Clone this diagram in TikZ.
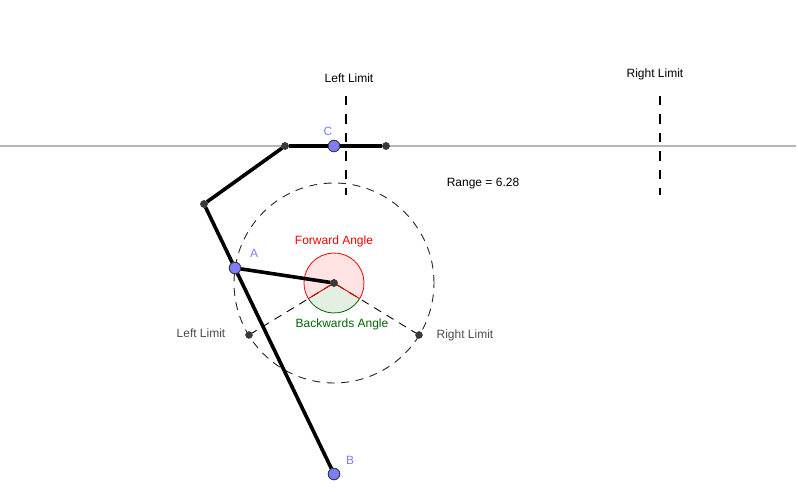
\documentclass[tikz,border=0pt]{standalone}
\usepackage{fontspec}
\setmainfont{Liberation Sans}
\usetikzlibrary{calc}
\definecolor{ptblue}{HTML}{7D7DFF}
\definecolor{ptdark}{HTML}{3A3A3A}
\definecolor{fwdfill}{HTML}{FFE3E3}
\definecolor{bckfill}{HTML}{E4EFE4}
\definecolor{bckgreen}{HTML}{006400}
\tikzset{
  freept/.style={circle,draw=ptdark,fill=ptblue,line width=0.8pt,inner sep=0pt,minimum size=11.5pt},
  fixpt/.style={circle,fill=ptdark,draw=ptdark,inner sep=0pt,minimum size=7pt},
  lbl/.style={font=\fontsize{12pt}{13pt}\selectfont,inner sep=0pt},
  arm/.style={line width=3.6pt},
  limitline/.style={line width=2.8pt,dash pattern=on 9.5pt off 8.9pt},
  thindash/.style={line width=0.9pt,dash pattern=on 8pt off 6.5pt}
}
\begin{document}
\begin{tikzpicture}[x=1pt,y=1pt]
\useasboundingbox (0,0) rectangle (798,492);
\coordinate (ctr) at (334,209);
\coordinate (railL) at (0,346);
\coordinate (railR) at (796,346);
\coordinate (l1t) at (346,396);
\coordinate (l1b) at (346,297);
\coordinate (l2t) at (660,396);
\coordinate (l2b) at (660,297);

% angle sectors
\fill[fwdfill] (ctr) -- ++(328.5:30pt) arc[start angle=-31.5,end angle=211.5,radius=30pt] -- cycle;
\fill[bckfill] (ctr) -- ++(211.5:30pt) arc[start angle=211.5,end angle=328.5,radius=30pt] -- cycle;

% rail and limits
\draw[black!28,line width=1.7pt] (railL) -- (railR);
\draw[limitline] (l1t) -- (l1b);
\draw[limitline] (l2t) -- (l2b);
\draw[thindash,black!85] (ctr) circle (100pt);

\node[fixpt] (hub) at (ctr) {};
\node[fixpt] (limL) at (249,157) {};
\node[fixpt] (limR) at (419,157) {};
\node[fixpt] (knee) at (204,288) {};
\node[fixpt] (elbow) at (285,346) {};
\node[fixpt] (tip) at (386,346) {};

% sector outlines
\draw[thindash] (hub) -- (limL);
\draw[thindash] (hub) -- (limR);
\draw[red,line width=0.8pt] ($(ctr)+(328.5:30pt)$) arc[start angle=-31.5,end angle=211.5,radius=30pt];
\draw[red!90!black,line width=0.9pt] (ctr) -- ++(328.5:30pt);
\draw[red!90!black,line width=0.9pt] (ctr) -- ++(211.5:30pt);
\draw[bckgreen,line width=0.8pt] ($(ctr)+(211.5:30pt)$) arc[start angle=211.5,end angle=328.5,radius=30pt];

\node[freept] (A) at (235,224) {};
\node[freept] (B) at (334,18) {};
\node[freept] (C) at (334,346) {};

% linkage
\draw[arm] (hub) -- (A);
\draw[arm] (knee) -- (B);
\draw[arm] (knee) -- (elbow);
\draw[arm] (elbow) -- (tip);
\node[fixpt] at (hub) {};
\node[fixpt] at (knee) {};
\node[fixpt] at (elbow) {};
\node[fixpt] at (tip) {};
\node[freept] at (A) {};
\node[freept] at (B) {};
\node[freept] at (C) {};

\node[lbl,text=ptblue] (labA) at (254,239) {A};
\node[lbl,text=ptblue] (labB) at (350,32) {B};
\node[lbl,text=ptblue] (labC) at (328,361) {C};
\node[lbl] (top1) at (349,414) {Left Limit};
\node[lbl] (top2) at (655,418) {Right Limit};
\node[lbl] (range) at (483,308) {Range = 6.28};
\node[lbl,text=red] (fwd) at (334,251) {Forward Angle};
\node[lbl,text=bckgreen] (bck) at (342,168) {Backwards Angle};
\node[lbl,text=black!70] (sideL) at (201,159) {Left Limit};
\node[lbl,text=black!70] (sideR) at (465,157) {Right Limit};
\end{tikzpicture}
\end{document}
